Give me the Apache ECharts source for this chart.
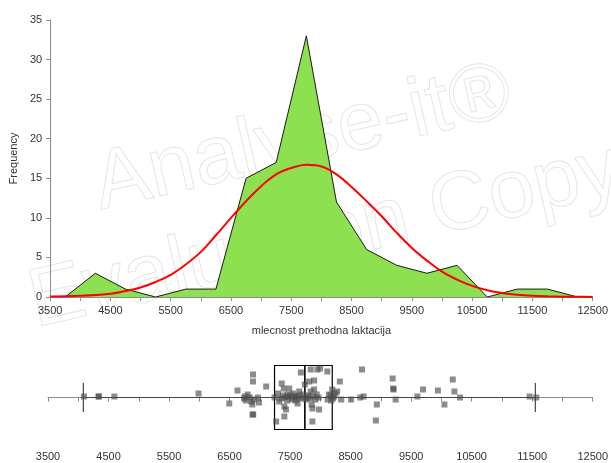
<!DOCTYPE html>
<html>
<head>
<meta charset="utf-8">
<script src="https://cdn.jsdelivr.net/npm/echarts@6/dist/echarts.min.js"></script>
<style>
  html, body { margin: 0; padding: 0; background: #ffffff; }
  #chart { width: 611px; height: 463px; }
</style>
</head>
<body>
<div id="chart"></div>
<script>
// Frequency polygon (bin midpoints, counts per 500 bin)
var binMids = [3750, 4250, 4750, 5250, 5750, 6250, 6750, 7250, 7750, 8250, 8750, 9250, 9750, 10250, 10750, 11250, 11750, 12250];
var binCounts = [0, 3, 1, 0, 1, 1, 15, 17, 33, 12, 6, 4, 3, 4, 0, 1, 1, 0];

// Fitted normal curve, sampled along the x range
var curveX = [3500, 3750, 4000, 4250, 4500, 4750, 5000, 5250, 5500, 5750, 6000, 6250, 6500, 6750, 7000, 7250,
              7500, 7750, 8000, 8250, 8500, 8750, 9000, 9250, 9500, 9750, 10000, 10250, 10500, 10750, 11000,
              11250, 11500, 11750, 12000, 12250, 12500];
var curveY = [0.05, 0.08, 0.15, 0.25, 0.4, 0.75, 1.2, 1.9, 2.8, 4.1, 5.7, 7.8, 10.0, 12.1, 14.0, 15.5,
              16.3, 16.7, 16.5, 15.5, 13.9, 12.1, 10.2, 8.1, 6.2, 4.6, 3.2, 2.2, 1.4, 0.85, 0.5,
              0.28, 0.15, 0.08, 0.04, 0.02, 0.01];

// Box plot summary: lower whisker, Q1, median, Q3, upper whisker
var boxStats = [4084, 7243, 7744, 8197, 11552];

// Individual observations with their vertical jitter
var obsValues = [
  4094, 4335, 4340, 4596, 5987, 6495,
  6631, 6752, 6768, 6833, 6860, 6876, 6887, 6887, 6880, 6890, 6969, 6986, 6900, 6740, 6800,
  7105, 7243, 7270, 7362, 7395, 7405, 7432, 7405, 7485, 7458, 7300, 7320, 7350, 7380, 7420, 7450, 7470,
  7652, 7624, 7678, 7743, 7841, 7815, 7897, 7951, 7995, 7841, 7897, 7857, 7869, 7979, 7869,
  7510, 7530, 7550, 7570, 7590, 7600, 7640, 7660, 7700, 7720, 7760, 7780, 7800, 7830, 7880, 7920, 7940, 7970,
  8115, 8142, 8196, 8224, 8278, 8322, 8344, 8169, 8180, 8210, 8250, 8120,
  8508, 8660, 8715, 8688, 8933, 8917,
  9195, 9205, 9210, 9244,
  9604, 9697, 9942,
  10050, 10188, 10215, 10307,
  11458, 11568
];
var obsJitter = [
  1, 1, 1, 1, 4, -6,
  7, 1, -3, 0, -4, -7, 23, 16, -17, -17, 0, -5, -2, -1, 3,
  11, 0, -24, 14, 9, -9, -12, -19, 9, 3, 4, -4, -1, 2, 0, -3, 1,
  6, -6, 25, 13, 28, 16, 17, 28, 29, 6, 8, -7, -11, -12, -24,
  2, -2, 4, 0, -3, 1, 2, -1, 0, 3, -2, 0, 2, -1, 1, -2, 3, 0,
  26, 3, 8, 1, 6, 16, -2, 2, -3, -1, 4, -2,
  -2, 0, 1, 28, -7, -23,
  19, 9, 8, -2,
  1, 8, 7,
  -7, 18, 6, 0,
  1, 0
];

// Axis tick labels
var xMin = 3500, xMax = 12500, xStep = 500;
var xLabels = ['3500', '4500', '5500', '6500', '7500', '8500', '9500', '10500', '11500', '12500'];
var yMax = 35, yStep = 5;

var polyData = binMids.map(function (x, i) { return [x, binCounts[i]]; });
var curveData = curveX.map(function (x, i) { return [x, curveY[i]]; });
var obsData = obsValues.map(function (v, i) { return [v, obsJitter[i]]; });

var FONT = 'Liberation Sans';
var labelColor = '#333';
var axisColor = '#8c8c8c';

function xAxisCommon(gridIndex) {
  return {
    type: 'value', gridIndex: gridIndex, min: xMin, max: xMax, interval: xStep,
    axisLine: { show: true, lineStyle: { color: axisColor, width: 1 } },
    axisTick: { show: true, length: 4, lineStyle: { color: axisColor } },
    splitLine: { show: false },
    axisLabel: {
      color: labelColor, fontFamily: FONT, fontSize: 11, margin: 8,
      formatter: function (v) {
        var s = String(Math.round(v));
        return xLabels.indexOf(s) >= 0 ? s : '';
      }
    }
  };
}

var chart = echarts.init(document.getElementById('chart'), null, { renderer: 'canvas' });

chart.setOption({
  animation: false,
  backgroundColor: '#ffffff',
  grid: [
    { left: 48, right: 13, top: 20, bottom: 166 },
    { left: 48, right: 13, top: 352, bottom: 20 }
  ],
  xAxis: [
    Object.assign(xAxisCommon(0), {
      name: 'mlecnost prethodna laktacija', nameLocation: 'middle', nameGap: 28,
      nameTextStyle: { color: labelColor, fontFamily: FONT, fontSize: 11 }
    }),
    xAxisCommon(1)
  ],
  yAxis: [
    {
      type: 'value', gridIndex: 0, min: 0, max: yMax, interval: yStep,
      name: 'Frequency', nameLocation: 'middle', nameGap: 27, nameRotate: 90,
      nameTextStyle: { color: labelColor, fontFamily: FONT, fontSize: 11 },
      axisLine: { show: true, lineStyle: { color: axisColor, width: 1 } },
      axisTick: { show: true, length: 4, lineStyle: { color: axisColor } },
      splitLine: { show: false },
      axisLabel: { color: labelColor, fontFamily: FONT, fontSize: 11, margin: 8 }
    },
    {
      type: 'value', gridIndex: 1, min: -45.5, max: 45.5, show: false
    }
  ],
  series: [
    {
      type: 'line', xAxisIndex: 0, yAxisIndex: 0, data: polyData,
      showSymbol: false, symbol: 'none',
      lineStyle: { color: '#1a1a1a', width: 1 },
      areaStyle: { color: '#8de04f', opacity: 1 },
      z: 2
    },
    {
      type: 'line', xAxisIndex: 0, yAxisIndex: 0, data: curveData,
      showSymbol: false, symbol: 'none', smooth: 0.4,
      lineStyle: { color: '#ff0000', width: 2 },
      z: 3
    },
    {
      // box, whiskers and median line
      type: 'custom', xAxisIndex: 1, yAxisIndex: 1,
      data: [boxStats],
      renderItem: function (params, api) {
        var lo = api.coord([api.value(0), 0]);
        var q1 = api.coord([api.value(1), 0]);
        var md = api.coord([api.value(2), 0]);
        var q3 = api.coord([api.value(3), 0]);
        var hi = api.coord([api.value(4), 0]);
        var cy = lo[1];
        var bh = 32, ch = 14.5;
        var thin = { stroke: '#444', lineWidth: 1.2 };
        return {
          type: 'group',
          children: [
            { type: 'line', shape: { x1: lo[0], y1: cy, x2: hi[0], y2: cy }, style: thin },
            { type: 'line', shape: { x1: lo[0], y1: cy - ch, x2: lo[0], y2: cy + ch }, style: thin },
            { type: 'line', shape: { x1: hi[0], y1: cy - ch, x2: hi[0], y2: cy + ch }, style: thin },
            { type: 'rect', shape: { x: q1[0], y: cy - bh, width: q3[0] - q1[0], height: 2 * bh },
              style: { fill: 'none', stroke: '#000', lineWidth: 1.2 } },
            { type: 'line', shape: { x1: md[0], y1: cy - bh, x2: md[0], y2: cy + bh },
              style: { stroke: '#000', lineWidth: 1.6 } }
          ]
        };
      },
      z: 2
    },
    {
      type: 'scatter', xAxisIndex: 1, yAxisIndex: 1, data: obsData,
      symbol: 'rect', symbolSize: 6,
      itemStyle: { color: 'rgba(75,75,75,0.8)' },
      z: 3
    }
  ],
  graphic: [
    {
      type: 'group', x: 312, y: 180, rotation: 13 * Math.PI / 180, z: 100, silent: true,
      children: [
        { type: 'text', x: 0, y: 0,
          style: { text: 'Analyse-it\u00AE', font: '83px "Liberation Sans"', fill: 'none',
                   stroke: '#e6e6e6', lineWidth: 1, align: 'center', verticalAlign: 'bottom' } },
        { type: 'text', x: 0, y: 100,
          style: { text: 'Evaluation Copy', font: '83px "Liberation Sans"', fill: 'none',
                   stroke: '#e6e6e6', lineWidth: 1, align: 'center', verticalAlign: 'bottom' } }
      ]
    }
  ]
});
</script>
</body>
</html>
